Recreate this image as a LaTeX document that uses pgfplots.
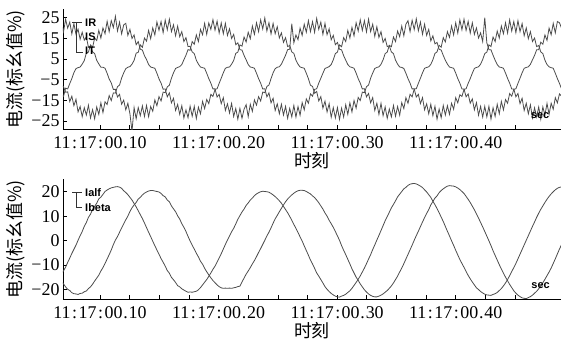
\documentclass[border=0pt]{standalone}
\usepackage{fontspec}
\setmainfont{Liberation Serif}
\newfontfamily\cjk{Noto Sans CJK SC}
\newfontfamily\lsans{Liberation Sans}
\usepackage{pgfplots}
\usepackage{pgfplotstable}
\pgfplotsset{compat=1.18}

\pgfplotstableread{
t IR IS IT Ia Ib
67.5 -12.3 -7.8 22.1 -13.6 -16.7
69.25 -13.1 -8.4 18.1 -12.4 -17.8
71 -9.1 -11.1 24.2 -10.9 -19.0
72.75 -9.5 -10.9 19.9 -9.0 -20.0
74.5 -6.9 -15.6 22.8 -7.2 -20.5
76.25 -4.5 -13.0 17.1 -5.3 -21.4
78 -1.6 -17.6 22.1 -3.6 -21.8
79.75 0.3 -14.5 16.9 -1.9 -21.9
81.5 0.8 -20.6 19.4 0.1 -22.1
83.25 1.1 -18.0 14.5 2.0 -21.7
85 2.5 -22.9 17.9 3.7 -21.6
86.75 4.2 -18.6 14.1 5.8 -21.0
88.5 7.9 -22.1 15.6 7.4 -20.7
90.25 8.3 -17.4 10.7 9.5 -19.7
92 11.8 -23.5 11.0 10.8 -19.0
93.75 10.6 -19.5 8.4 12.8 -17.9
95.5 15.1 -23.9 7.6 14.0 -16.6
97.25 13.9 -18.2 4.3 15.3 -15.4
99 18.8 -21.8 2.6 17.1 -14.2
100.75 15.1 -16.2 1.0 17.8 -12.5
102.5 20.0 -20.9 1.0 18.9 -11.1
104.25 17.2 -15.7 0.5 20.1 -9.4
106 23.2 -17.0 -1.9 20.7 -7.6
107.75 18.2 -12.7 -4.7 21.2 -5.8
109.5 23.5 -15.1 -6.6 21.6 -3.9
111.25 20.2 -11.4 -9.7 21.8 -1.7
113 25.6 -11.5 -9.7 22.0 0.2
114.75 18.5 -8.4 -13.4 22.1 1.6
116.5 22.8 -7.6 -12.1 21.9 3.4
118.25 17.1 -4.2 -16.9 21.4 5.1
120 21.5 -1.7 -14.9 20.4 6.8
121.75 22.2 0.3 -19.6 19.7 8.5
123.5 16.4 1.0 -16.4 18.8 10.0
125.25 19.3 1.3 -21.5 17.7 11.9
127 14.9 2.5 -30 16.6 13.4
128.75 16.6 4.3 -18.5 15.2 14.6
130.5 11.9 7.8 -23.9 13.8 15.6
132.25 13.4 8.2 -18.5 12.2 17.0
134 9.7 11.8 -22.4 10.6 17.7
135.75 9.3 10.6 -17.7 9.0 18.7
137.5 6.6 15.1 -22.8 7.2 19.4
139.25 4.7 13.6 -17.5 5.3 19.9
141 2.3 18.8 -22.9 3.4 20.3
142.75 1.1 14.8 -18.0 1.6 20.5
144.5 0.8 20.0 -20.3 -0.3 20.5
146.25 0.5 16.6 -14.8 -2.1 20.3
148 -1.9 22.9 -17.6 -3.9 20.1
149.75 -4.6 18.9 -13.2 -5.6 19.9
151.5 -6.7 23.1 -15.3 -7.4 19.3
153.25 -9.6 17.7 -11.0 -8.9 18.4
155 -9.5 23.8 -11.3 -10.5 17.9
156.75 -13.3 19.1 -8.5 -12.3 16.6
158.5 -11.4 24.2 -7.7 -13.4 15.9
160.25 -16.2 18.2 -4.3 -15.1 14.2
162 -14.0 21.5 -1.7 -16.1 13.0
163.75 -19.9 16.2 0.4 -17.2 11.8
165.5 -17.0 20.9 0.9 -18.5 10.1
167.25 -21.8 15.7 1.3 -19.0 8.8
169 -17.6 18.2 2.3 -19.8 6.9
170.75 -23.5 13.4 4.6 -20.3 5.4
172.5 -19.6 15.3 6.8 -20.8 3.7
174.25 -23.4 11.0 9.5 -21.2 1.7
176 -17.8 11.1 9.2 -21.1 -0.2
177.75 -22.7 8.4 13.4 -21.2 -1.9
179.5 -17.9 7.6 12.1 -21.0 -3.5
181.25 -23.8 4.4 16.6 -20.8 -5.2
183 -18.3 2.5 13.4 -20.2 -6.7
184.75 -21.5 1.1 19.3 -19.3 -8.5
186.5 -15.5 0.8 16.7 -18.2 -9.7
188.25 -19.0 0.5 22.2 -17.1 -11.4
190 -14.6 -1.9 16.9 -16.0 -12.8
191.75 -16.6 -4.5 22.4 -14.7 -14.1
193.5 -12.1 -6.7 19.3 -13.3 -15.3
195.25 -13.1 -9.5 24.0 -11.8 -16.4
197 -9.7 -9.4 18.9 -10.5 -17.3
198.75 -9.4 -13.4 23.3 -8.8 -18.2
200.5 -6.8 -12.1 17.5 -7.1 -18.9
202.25 -4.3 -16.6 22.4 -5.4 -19.4
204 -1.7 -13.7 17.2 -3.5 -19.6
205.75 0.5 -19.9 22.2 -1.6 -19.5
207.5 1.0 -16.7 16.4 0.2 -19.6
209.25 1.1 -21.1 19.6 1.9 -19.5
211 2.5 -16.5 14.9 3.6 -19.6
212.75 4.3 -22.8 16.9 5.0 -19.4
214.5 7.7 -18.9 11.9 6.8 -19.2
216.25 8.3 -24.1 12.8 8.7 -18.9
218 11.8 -18.9 9.5 10.2 -18.7
219.75 11.2 -23.7 9.3 11.7 -17.0
221.5 15.6 -19.3 6.7 12.9 -15.4
223.25 13.2 -17.1 4.6 14.4 -13.8
225 17.9 -22.9 2.3 15.4 -12.5
226.75 14.8 -16.9 1.1 16.6 -11.1
228.5 20.9 -20.3 0.9 17.4 -9.6
230.25 16.9 -14.8 0.5 18.4 -8.2
232 22.5 -17.3 -1.9 19.1 -6.6
233.75 18.2 -13.2 -4.5 19.6 -4.9
235.5 23.9 -15.3 -6.7 20.0 -3.3
237.25 19.5 -11.0 -9.5 20.2 -1.6
239 24.8 -11.3 -9.4 20.1 0.1
240.75 18.5 -8.3 -13.3 20.0 1.9
242.5 22.5 -7.6 -11.4 19.8 3.4
244.25 17.1 -4.5 -16.2 19.3 5.2
246 22.2 -1.7 -14.0 18.7 7.1
247.75 17.2 0.3 -19.9 18.0 8.9
249.5 20.6 1.0 -16.7 17.2 10.3
251.25 15.1 1.2 -21.5 16.3 11.8
253 17.6 2.5 -16.9 15.3 13.2
254.75 13.0 4.6 -22.1 14.0 14.6
256.5 15.3 6.8 -17.9 12.7 15.9
258.25 11.0 9.5 -23.7 11.4 17.0
260 11.5 9.7 -18.9 9.9 17.9
261.75 8.4 22.0 -23.0 8.3 18.7
263.5 7.7 12.8 -17.5 6.6 19.4
265.25 4.4 16.6 -23.1 5.0 20.0
267 2.5 14.3 -18.0 3.3 20.4
268.75 1.1 19.9 -22.2 1.5 20.6
270.5 0.8 16.4 -16.1 -0.2 20.6
272.25 0.5 21.8 -19.6 -2.2 20.5
274 -1.9 17.9 -14.3 -4.1 20.1
275.75 -4.5 23.5 -16.4 -6.0 19.6
277.5 -7.7 18.2 -11.9 -8.0 19.1
279.25 -8.3 23.0 -13.0 -9.6 18.3
281 -11.6 17.9 -9.7 -11.4 17.6
282.75 -10.7 24.6 -9.4 -13.3 16.6
284.5 -15.3 19.3 -6.7 -14.6 15.5
286.25 -13.2 22.8 -4.3 -16.0 14.2
288 -18.8 16.9 -1.9 -17.4 12.9
289.75 -15.4 22.2 0.4 -18.9 11.3
291.5 -20.6 16.7 0.8 -20.0 10.0
293.25 -16.6 19.6 1.3 -20.9 8.3
295 -23.2 14.3 2.3 -21.7 6.9
296.75 -18.5 16.4 4.6 -22.3 5.4
298.5 -23.5 11.9 7.6 -22.8 3.7
300.25 -18.5 13.0 8.3 -23.1 1.9
302 -24.2 9.7 11.8 -23.2 0.1
303.75 -18.8 9.4 10.9 -22.8 -2.1
305.5 -23.1 6.6 15.3 -22.5 -4.0
307.25 -17.1 4.4 13.4 -22.0 -5.8
309 -21.8 2.3 18.8 -21.3 -7.7
310.75 -16.2 1.2 15.1 -20.6 -9.6
312.5 -20.6 0.9 20.3 -19.6 -11.6
314.25 -15.1 0.5 16.2 -18.4 -13.3
316 -18.8 -1.8 22.5 -17.2 -15.0
317.75 -13.6 -4.5 18.5 -15.9 -16.3
319.5 -15.1 -6.7 23.9 -14.5 -17.8
321.25 -11.0 -9.5 18.8 -12.9 -19.0
323 -11.3 -9.4 23.5 -11.3 -20.2
324.75 -8.4 -13.3 18.1 -9.5 -21.1
326.5 -7.6 -11.7 24.2 -7.6 -21.9
328.25 -4.3 -16.2 18.2 -5.8 -22.5
330 -1.8 -13.7 21.8 -3.7 -22.9
331.75 0.4 -19.9 15.9 -1.8 -23.1
333.5 0.9 -16.4 20.6 0.2 -23.1
335.25 1.2 -21.8 15.4 2.1 -22.8
337 2.4 -16.5 18.2 4.1 -22.4
338.75 4.6 -22.4 13.0 6.1 -21.9
340.5 7.6 -18.2 14.9 8.1 -21.2
342.25 8.3 -23.7 11.0 9.8 -20.5
344 11.6 -19.2 11.3 11.6 -19.6
345.75 10.9 -23.0 8.4 13.4 -18.6
347.5 15.6 -17.5 7.6 14.8 -17.4
349.25 13.4 -22.7 4.4 16.3 -16.0
351 18.5 -18.0 2.5 17.9 -14.6
352.75 15.7 -22.2 1.1 19.0 -12.9
354.5 20.9 -16.1 0.9 20.1 -11.3
356.25 16.2 -19.0 0.4 21.2 -9.5
358 21.8 -13.7 -1.9 21.8 -7.6
359.75 23.5 -16.4 -4.5 22.6 -5.7
361.5 18.2 -12.1 -6.7 23.1 -3.8
363.25 23.7 -13.3 -9.5 23.3 -1.9
365 19.2 -9.5 -9.4 23.4 0.1
366.75 24.4 -9.4 -13.4 23.2 2.0
368.5 18.6 -6.8 -12.1 22.8 3.8
370.25 22.8 -4.3 -16.6 22.3 5.7
372 16.9 -1.7 -13.7 21.7 7.6
373.75 21.8 0.5 -19.6 20.8 9.4
375.5 16.4 0.9 -16.7 19.9 11.1
377.25 19.3 1.2 -21.5 18.8 12.7
379 13.7 2.4 -16.9 17.7 14.6
380.75 16.2 4.6 -22.4 16.1 16.0
382.5 12.3 7.7 -17.9 14.7 17.4
384.25 13.0 8.4 -24.1 13.1 18.3
386 9.7 11.6 -19.2 11.4 19.6
387.75 9.3 10.7 -23.4 9.6 20.5
389.5 6.7 15.3 -17.5 7.8 21.2
391.25 4.4 13.2 -22.1 5.8 21.8
393 2.5 18.2 -17.6 3.8 22.3
394.75 1.1 15.4 -21.8 1.9 22.5
396.5 0.8 20.9 -16.4 -0.1 22.4
398.25 0.5 16.6 -19.3 -2.0 22.3
400 -1.8 22.5 -13.7 -4.0 22.0
401.75 -4.5 17.5 -16.2 -5.9 21.5
403.5 -6.7 23.9 -12.3 -7.8 20.9
405.25 -9.5 19.1 -13.1 -9.4 20.1
407 -9.5 24.2 -9.7 -11.0 19.3
408.75 -13.3 18.8 -9.4 -12.7 18.1
410.5 -11.9 23.2 -6.8 -14.3 16.9
412.25 -16.4 17.5 -4.5 -15.7 15.6
414 -14.3 22.5 -1.9 -17.0 14.1
415.75 -19.6 16.9 0.4 -18.2 12.6
417.5 -16.1 20.0 0.9 -19.4 10.9
419.25 -22.2 15.1 1.2 -20.1 9.2
421 -17.9 17.6 2.5 -20.9 7.4
422.75 -23.1 13.4 4.7 -21.5 5.6
424.5 -17.9 25.0 7.6 -22.0 3.7
426.25 -23.0 12.8 8.3 -22.3 1.8
428 -17.9 9.5 11.8 -22.4 -0.1
429.75 -24.1 9.4 11.0 -22.5 -2.1
431.5 -18.6 6.8 15.6 -22.1 -4.2
433.25 -22.8 4.4 13.4 -21.8 -6.1
435 -16.9 2.3 18.5 -21.3 -8.0
436.75 -21.5 1.1 15.1 -20.5 -9.9
438.5 -15.5 0.9 20.9 -19.7 -11.7
440.25 -19.6 0.5 17.2 -18.6 -13.4
442 -14.6 -1.8 22.5 -17.4 -15.0
443.75 -16.4 -4.4 17.5 -16.0 -16.5
445.5 -11.7 -6.7 23.9 -14.4 -18.0
447.25 -13.0 -9.5 18.5 -12.7 -19.3
449 -9.7 -9.5 23.1 -11.1 -20.6
450.75 -9.4 -13.3 17.7 -9.4 -21.6
452.5 -6.8 -11.7 23.5 -7.5 -22.4
454.25 -4.3 -16.6 18.2 -5.6 -23.0
456 -1.7 -14.0 22.1 -3.7 -23.5
457.75 0.5 -19.9 16.2 -1.8 -23.7
459.5 0.9 -16.4 20.0 0.1 -23.8
461.25 1.2 -21.5 14.8 2.0 -23.4
463 2.4 -17.2 18.2 3.9 -23.0
464.75 4.6 -23.5 13.4 5.8 -22.4
466.5 6.7 -18.6 15.1 7.6 -21.6
468.25 9.4 -23.0 11.0 9.5 -20.8
470 9.5 -18.2 11.5 11.2 -19.8
471.75 13.1 -24.1 8.4 12.8 -18.6
473.5 12.1 -18.2 7.6 14.2 -17.3
475.25 16.6 -22.1 4.4 15.6 -15.9
477 14.0 -16.5 2.3 16.9 -14.4
478.75 19.9 -21.8 1.2 18.1 -12.9
480.5 16.7 -16.4 0.8 19.1 -11.3
482.25 22.2 -19.3 0.5 20.0 -9.4
484 17.6 -13.7 -1.9 20.8 -7.5
485.75 23.1 -16.2 -4.5 21.4 -5.5
487.5 22.5 -11.9 -6.8 21.8 -3.5
489.25 19.9 -13.0 -9.4 22.0 -1.7
}\data

\newcommand{\tlab}[1]{11\kern1.5bp:\kern1.5bp17\kern1.5bp:\kern1.5bp00\kern0.8bp.\kern0.8bp#1}
\newcommand{\lfont}{\lsans\bfseries\fontsize{11}{11}\selectfont}

\pgfplotsset{myax/.style={
  scale only axis, width=498bp, height=120bp,
  xmin=68.8, xmax=488.8,
  axis x line*=bottom, axis y line*=left,
  axis line style={black, line width=0.8bp},
  xtick={100,150,200,250,300,350,400,450},
  minor x tick num=1,
  xticklabels={\tlab{10},,\tlab{20},,\tlab{30},,\tlab{40},},
  tick align=inside, major tick length=4bp, minor tick length=4bp,
  tick style={black, line width=0.6bp},
  ticklabel style={font=\fontsize{18}{18}\selectfont},
  xticklabel style={yshift=-4bp},
  xlabel={\cjk 时刻},
  xlabel style={yshift=3bp},
  ylabel={\cjk 电流(标幺值\%)},
  label style={font=\fontsize{18}{18}\selectfont},
  clip=true,
}, curve/.style={draw=black!70, line width=0.8bp, mark=none}}

\begin{document}
\begin{tikzpicture}
\path[use as bounding box] (-63bp,9.3bp) rectangle (498bp,-332.7bp);
\begin{axis}[myax, at={(0,0)}, anchor=north west,
  ymin=-29, ymax=29, ytick={-25,-15,-5,5,15,25},
  yticklabels={−25,−15,−5,5,15,25}]
\addplot[curve] table[x=t,y=IR]{\data};
\addplot[curve] table[x=t,y=IS]{\data};
\addplot[curve] table[x=t,y=IT]{\data};
\draw[black!80, line width=0.6bp] (rel axis cs:0.0181,0.894) -- (rel axis cs:0.0382,0.894)
  (rel axis cs:0.0271,0.894) -- (rel axis cs:0.0271,0.644) -- (rel axis cs:0.0402,0.644);
\node[anchor=west, font=\lfont, inner sep=0] at (rel axis cs:0.0442,0.89) {IR};
\node[anchor=west, font=\lfont, inner sep=0] at (rel axis cs:0.0442,0.773) {IS};
\node[anchor=west, font=\lfont, inner sep=0] at (rel axis cs:0.0442,0.6525) {IT};
\node[font=\lfont, inner sep=0] at (rel axis cs:0.958,0.111) {sec};
\end{axis}
\begin{axis}[myax, at={(0,-170bp)}, anchor=north west,
  ymin=-24.1, ymax=25.1, ytick={-20,-10,0,10,20},
  yticklabels={−20,−10,0,10,20}]
\addplot[curve] table[x=t,y=Ia]{\data};
\addplot[curve] table[x=t,y=Ib]{\data};
\draw[black!80, line width=0.6bp] (rel axis cs:0.0181,0.888) -- (rel axis cs:0.0382,0.888)
  (rel axis cs:0.0271,0.888) -- (rel axis cs:0.0271,0.767) -- (rel axis cs:0.0382,0.767);
\node[anchor=west, font=\lfont, inner sep=0] at (rel axis cs:0.0442,0.886) {Ialf};
\node[anchor=west, font=\lfont, inner sep=0] at (rel axis cs:0.0442,0.765) {Ibeta};
\node[font=\lfont, inner sep=0] at (rel axis cs:0.959,0.111) {sec};
\end{axis}
\end{tikzpicture}
\end{document}
